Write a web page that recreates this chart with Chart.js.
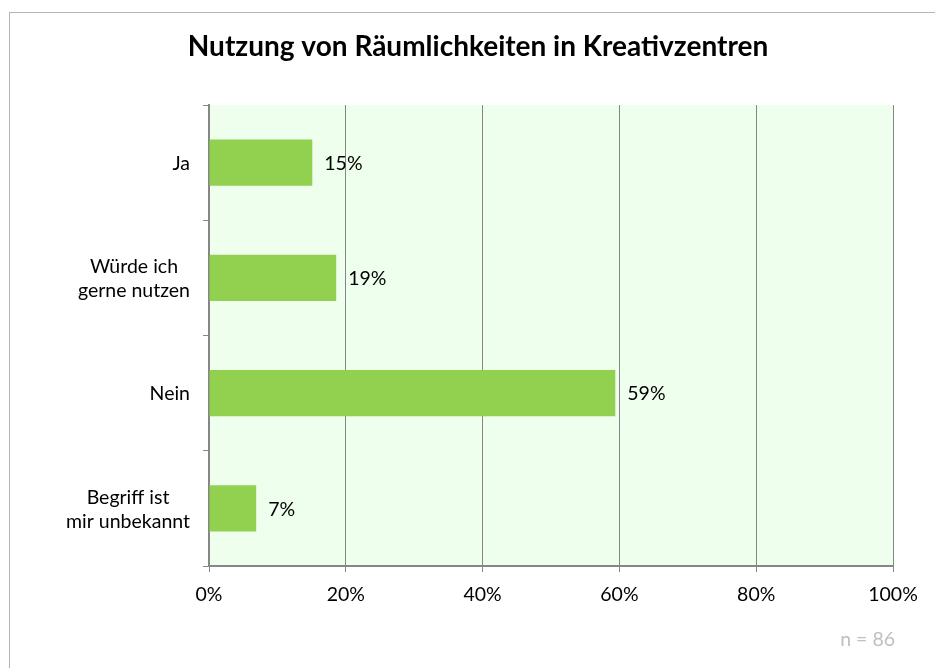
<!DOCTYPE html>
<html>
<head>
<meta charset="utf-8">
<script src="https://cdn.jsdelivr.net/npm/chart.js@4/dist/chart.umd.min.js"></script>
<style>
  html, body { margin: 0; padding: 0; background: #ffffff; overflow: hidden; }
  #frame { position: absolute; left: 9px; top: 12px; width: 960px; height: 700px; border: 1px solid #b4b4b4; box-sizing: border-box; }
  #wrap { position: absolute; left: 0; top: 0; width: 935px; height: 668px; }
</style>
</head>
<body>
<div id="frame"></div>
<div id="wrap"><canvas id="c" width="935" height="668"></canvas></div>
<script>
const titleText = 'Nutzung von Räumlichkeiten in Kreativzentren';
const categories = [['Ja'], ['Würde ich', 'gerne nutzen'], ['Nein'], ['Begriff ist', 'mir unbekannt']];
const values = [15.1, 18.6, 59.4, 6.9];
const valueLabels = ['15%', '19%', '59%', '7%'];
const xTicks = [0, 20, 40, 60, 80, 100];
const noteText = 'n = 86';

const FONT = 'Lato, "Open Sans", sans-serif';
const FS = 19.5;

const plotBg = {
  id: 'plotBg',
  beforeDraw(chart) {
    const { ctx, chartArea: a } = chart;
    ctx.save();
    ctx.fillStyle = '#eeffee';
    ctx.fillRect(a.left, a.top, a.right - a.left, a.bottom - a.top);
    ctx.restore();
  }
};

const extras = {
  id: 'extras',
  afterDatasetsDraw(chart) {
    const { ctx, chartArea: a } = chart;
    const meta = chart.getDatasetMeta(0);
    const yScale = chart.scales.y;
    ctx.save();
    ctx.font = FS + 'px ' + FONT;
    ctx.fillStyle = '#000000';
    ctx.textAlign = 'left';
    ctx.textBaseline = 'middle';
    meta.data.forEach((bar, i) => {
      ctx.fillText(valueLabels[i], bar.x + 12, bar.y + 1);
    });
    ctx.textAlign = 'center';
    const lh = 24;
    categories.forEach((lines, i) => {
      const cy = yScale.getPixelForValue(i);
      const w = Math.max(...lines.map(l => ctx.measureText(l).width));
      const cx = a.left - 19 - w / 2;
      const y0 = cy - (lines.length - 1) * lh / 2;
      lines.forEach((l, j) => ctx.fillText(l, cx, y0 + j * lh + 1));
    });
    ctx.fillStyle = '#bfbfbf';
    ctx.textAlign = 'right';
    ctx.fillText(noteText, a.right + 2, 640);
    ctx.restore();
  }
};

new Chart(document.getElementById('c'), {
  type: 'bar',
  data: {
    labels: categories.map(c => c.join(' ')),
    datasets: [{
      data: values,
      backgroundColor: '#92d050',
      borderWidth: 0,
      categoryPercentage: 1,
      barPercentage: 0.4
    }]
  },
  options: {
    indexAxis: 'y',
    responsive: false,
    animation: false,
    devicePixelRatio: 1,
    layout: { padding: { left: 63, right: 42, top: 0, bottom: 0 } },
    plugins: {
      legend: { display: false },
      tooltip: { enabled: false },
      title: {
        display: true,
        text: titleText,
        color: '#000000',
        font: { family: FONT, size: 28, weight: 'bold', lineHeight: 1.2 },
        padding: { top: 30, bottom: 41.4 }
      }
    },
    scales: {
      x: {
        min: 0, max: 100,
        afterBuildTicks(scale) { scale.ticks = xTicks.map(v => ({ value: v })); },
        afterFit(scale) { scale.height = 102; },
        border: { display: true, color: '#868686', width: 2 },
        grid: { color: '#868686', lineWidth: 1, drawTicks: true, tickLength: 6, tickColor: '#868686' },
        ticks: {
          color: '#000000',
          font: { family: FONT, size: FS },
          padding: 11,
          maxRotation: 0,
          callback: v => v + '%'
        }
      },
      y: {
        afterFit(scale) { scale.width = 146; },
        border: { display: true, color: '#868686', width: 2 },
        grid: { display: true, drawOnChartArea: false, drawTicks: true, tickLength: 6, offset: true, color: '#868686', tickColor: '#868686' },
        ticks: { display: false }
      }
    }
  },
  plugins: [plotBg, extras]
});
</script>
</body>
</html>
